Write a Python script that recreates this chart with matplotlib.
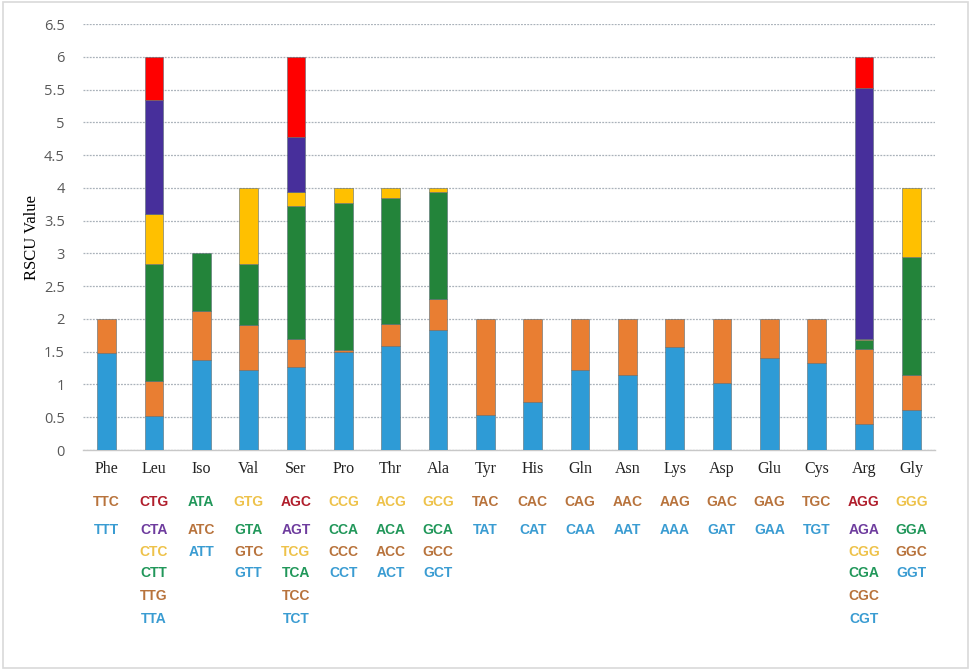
import numpy as np
import matplotlib.pyplot as plt
from matplotlib.patches import Rectangle

# amino acids and their codons, listed from the bottom of the stack upwards
amino = ["Phe", "Leu", "Iso", "Val", "Ser", "Pro", "Thr", "Ala", "Tyr",
         "His", "Gln", "Asn", "Lys", "Asp", "Glu", "Cys", "Arg", "Gly"]

codons = [
    ["TTT", "TTC"],
    ["TTA", "TTG", "CTT", "CTC", "CTA", "CTG"],
    ["ATT", "ATC", "ATA"],
    ["GTT", "GTC", "GTA", "GTG"],
    ["TCT", "TCC", "TCA", "TCG", "AGT", "AGC"],
    ["CCT", "CCC", "CCA", "CCG"],
    ["ACT", "ACC", "ACA", "ACG"],
    ["GCT", "GCC", "GCA", "GCG"],
    ["TAT", "TAC"],
    ["CAT", "CAC"],
    ["CAA", "CAG"],
    ["AAT", "AAC"],
    ["AAA", "AAG"],
    ["GAT", "GAC"],
    ["GAA", "GAG"],
    ["TGT", "TGC"],
    ["CGT", "CGC", "CGA", "CGG", "AGA", "AGG"],
    ["GGT", "GGC", "GGA", "GGG"],
]

rscu = [
    [1.48, 0.52],
    [0.52, 0.53, 1.79, 0.76, 1.74, 0.66],
    [1.37, 0.75, 0.88],
    [1.22, 0.68, 0.94, 1.16],
    [1.26, 0.44, 2.03, 0.21, 0.83, 1.23],
    [1.49, 0.04, 2.24, 0.23],
    [1.59, 0.33, 1.93, 0.15],
    [1.83, 0.48, 1.62, 0.07],
    [0.53, 1.47],
    [0.74, 1.26],
    [1.22, 0.78],
    [1.15, 0.85],
    [1.57, 0.43],
    [1.02, 0.98],
    [1.40, 0.60],
    [1.32, 0.68],
    [0.39, 1.15, 0.14, 0.02, 3.83, 0.47],
    [0.61, 0.54, 1.79, 1.06],
]

yticks = [0, 0.5, 1, 1.5, 2, 2.5, 3, 3.5, 4, 4.5, 5, 5.5, 6, 6.5]

bar_colors = ["#2E9BD6", "#E97E32", "#23843A", "#FFC000", "#472F9B", "#FF0000"]
text_colors = ["#3A9CD2", "#B8733C", "#21975A", "#EEC24A", "#6E3C9E", "#B01E2C"]

fig = plt.figure(figsize=(9.73, 6.7), dpi=100)
ax = fig.add_axes([83 / 973, (670 - 450) / 670, 852 / 973, 426 / 670])

x = np.arange(len(amino))
for i in range(len(amino)):
    bottom = 0
    for j, v in enumerate(rscu[i]):
        ax.bar(x[i], v, width=0.4, bottom=bottom, color=bar_colors[j],
               edgecolor="#5a6b73", linewidth=0.4, zorder=3)
        bottom += v

ax.set_xlim(-0.5, len(amino) - 0.5)
ax.set_ylim(0, 6.5)
ax.set_yticks(yticks)
ax.set_yticklabels([("%g" % t) for t in yticks], fontsize=10.5,
                   color="#595959", family="Open Sans")
ax.tick_params(axis="y", length=0, pad=13)
ax.set_xticks(x)
ax.set_xticklabels(amino, fontsize=11.5, family="Liberation Serif", color="#222222")
ax.tick_params(axis="x", length=0, pad=8)
ax.yaxis.grid(True, linestyle=(0, (1.5, 1)), color="#aab2ba", linewidth=0.9, zorder=0)
for s in ["top", "right", "left"]:
    ax.spines[s].set_visible(False)
ax.spines["bottom"].set_color("#c8c8c8")
ax.spines["bottom"].set_linewidth(1)
ax.set_ylabel("RSCU Value", family="Liberation Serif", fontsize=12, labelpad=3)

# codon labels under each bar, top codon first
row_px = [52, 80, 102, 123, 146, 169]
for i in range(len(amino)):
    n = len(codons[i])
    for r in range(n):
        j = n - 1 - r
        ax.annotate(codons[i][j], xy=(x[i], 0), xycoords=("data", "axes fraction"),
                    xytext=(0, -row_px[r] * 0.72), textcoords="offset points",
                    ha="center", va="center", fontsize=10, fontweight="bold",
                    family="Liberation Sans", color=text_colors[j],
                    annotation_clip=False)

fig.patches.append(Rectangle((0.003, 0.003), 0.992, 0.994, transform=fig.transFigure,
                             fill=False, edgecolor="#d9d9d9", linewidth=1.2))

fig.savefig("out.png", dpi=100)
